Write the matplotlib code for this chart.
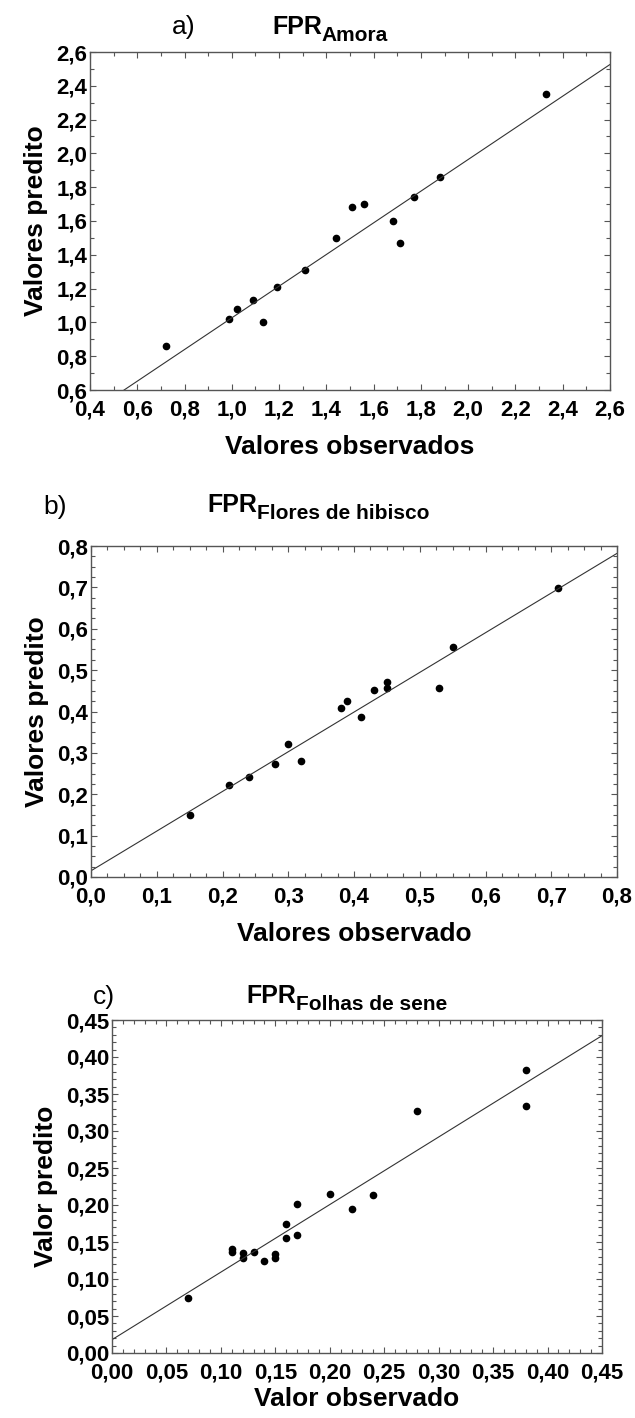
import numpy as np
import matplotlib.pyplot as plt
from matplotlib.ticker import MultipleLocator, FuncFormatter

plt.rcParams['font.family'] = 'Liberation Sans'
plt.rcParams['font.weight'] = 'bold'
plt.rcParams['axes.labelweight'] = 'bold'

# a) amora
obs_a = [0.72, 0.99, 1.02, 1.09, 1.13, 1.19, 1.31, 1.44, 1.51, 1.56, 1.68, 1.71, 1.77, 1.88, 2.33]
pred_a = [0.86, 1.02, 1.08, 1.13, 1.00, 1.21, 1.31, 1.50, 1.68, 1.70, 1.60, 1.47, 1.74, 1.86, 2.35]
fit_a = [0.090, 0.937]  # intercept, slope

# b) flores de hibisco
obs_b = [0.15, 0.21, 0.24, 0.28, 0.30, 0.32, 0.38, 0.39, 0.41, 0.43, 0.45, 0.45, 0.53, 0.55, 0.71]
pred_b = [0.150, 0.222, 0.242, 0.273, 0.321, 0.281, 0.408, 0.425, 0.387, 0.453, 0.472, 0.456, 0.458, 0.557, 0.699]
fit_b = [0.015, 0.959]

# c) folhas de sene
obs_c = [0.07, 0.11, 0.11, 0.12, 0.12, 0.13, 0.14, 0.15, 0.15, 0.16, 0.16, 0.17, 0.17,
         0.20, 0.22, 0.24, 0.28, 0.38, 0.38]
pred_c = [0.075, 0.140, 0.137, 0.135, 0.129, 0.137, 0.125, 0.134, 0.129, 0.174, 0.155, 0.202, 0.159,
          0.215, 0.194, 0.214, 0.327, 0.383, 0.334]
fit_c = [0.018, 0.913]

W, H = 635, 1418
fig = plt.figure(figsize=(W / 100, H / 100), dpi=100)


def box(x0, x1, y0, y1):
    # pixel box -> figure fraction
    return [x0 / W, 1 - y1 / H, (x1 - x0) / W, (y1 - y0) / H]


def comma(dec):
    return FuncFormatter(lambda v, p: f"{v:.{dec}f}".replace('.', ','))


def panel(rect, obs, pred, fit, lim_x, lim_y, major, minor, dec, xlabel, ylabel,
          xpad=7, xlabpad=10):
    ax = fig.add_axes(rect)
    ax.plot(obs, pred, 'o', color='black', markersize=4.5)
    xs = np.array(lim_x)
    ax.plot(xs, fit[0] + fit[1] * xs, color='#333333', linewidth=0.8)
    ax.set_xlim(lim_x)
    ax.set_ylim(lim_y)
    for axis in (ax.xaxis, ax.yaxis):
        axis.set_major_locator(MultipleLocator(major))
        axis.set_minor_locator(MultipleLocator(minor))
        axis.set_major_formatter(comma(dec))
    ax.tick_params(which='both', direction='in', top=True, right=True,
                   width=0.8, color='#555555', labelsize=16)
    ax.tick_params(which='major', length=4)
    ax.tick_params(which='minor', length=3)
    ax.tick_params(axis='x', pad=xpad)
    ax.tick_params(axis='y', pad=2)
    for lab in ax.get_xticklabels() + ax.get_yticklabels():
        lab.set_fontweight('bold')
    for s in ax.spines.values():
        s.set_color('#555555')
        s.set_linewidth(1.0)
    ax.set_xlabel(xlabel, fontsize=19, fontweight='bold', labelpad=xlabpad)
    ax.set_ylabel(ylabel, fontsize=19, fontweight='bold', labelpad=6)
    return ax


def title(letter, lx, ly, name, fx, fy):
    fig.text(lx / W, 1 - ly / H, letter, fontsize=19, fontweight='normal',
             ha='center', va='center')
    t = fig.text(fx / W, 1 - fy / H, 'FPR', fontsize=18, fontweight='bold',
                 ha='left', va='baseline')
    ann = plt.annotate(name, xy=(1, 0), xycoords=t, xytext=(0, -1.5),
                       textcoords='offset points', fontsize=15,
                       fontweight='bold', ha='left', va='baseline',
                       annotation_clip=False)
    return ann


ax_a = panel(box(90, 610, 52, 390), obs_a, pred_a, fit_a, (0.4, 2.6), (0.6, 2.6),
             0.2, 0.1, 1, 'Valores observados', 'Valores predito')
ax_b = panel(box(91, 617, 546, 877), obs_b, pred_b, fit_b, (0.0, 0.8), (0.0, 0.8),
             0.1, 0.025, 1, 'Valores observado', 'Valores predito')
ax_c = panel(box(112, 602, 1020, 1353), obs_c, pred_c, fit_c, (0.0, 0.45), (0.0, 0.45),
             0.05, 0.01, 2, 'Valor observado', 'Valor predito', xpad=7, xlabpad=2)

title('a)', 184, 27, 'Amora', 272, 34)
title('b)', 55, 507, 'Flores de hibisco', 207, 512)
title('c)', 104, 997, 'Folhas de sene', 246, 1003)

fig.savefig('out.png', dpi=100)
